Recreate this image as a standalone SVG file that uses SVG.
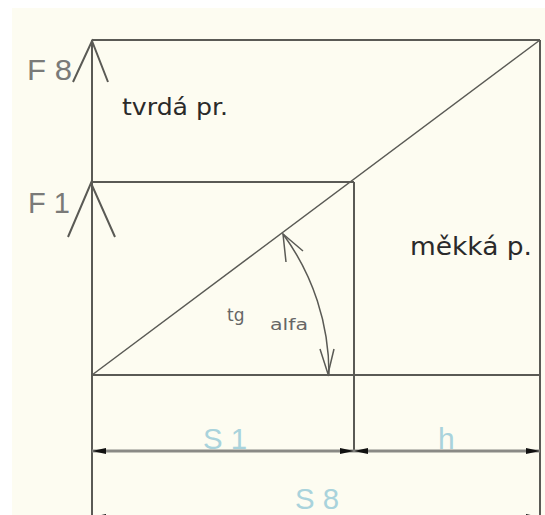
<svg xmlns="http://www.w3.org/2000/svg" width="545" height="515" viewBox="0 0 545 515">
<style>
.ln{stroke:#5a5a55;stroke-width:2;fill:none}
.thin{stroke:#5a5a55;stroke-width:1.5;fill:none}
.dim{stroke:#8a8a86;stroke-width:3;fill:none}
.ah{fill:#111}
.flab{font-family:"Liberation Sans",Arial,sans-serif;font-size:30px;fill:#7a7a78}
.slab{font-family:"Liberation Sans",Arial,sans-serif;font-size:30px;fill:#a9d3dc}
.lab{font-family:"DejaVu Sans",sans-serif;fill:#2a2a2a}
.sm{font-family:"DejaVu Sans",sans-serif;fill:#666}
</style>
<rect x="0" y="0" width="545" height="515" fill="#ffffff"/>
<rect x="12" y="8" width="533" height="507" fill="#fdfcf1"/>
<g id="frame">
<line class="ln" x1="92" y1="40" x2="92" y2="515"/>
<line class="ln" x1="92" y1="40" x2="540" y2="40"/>
<line class="ln" x1="540" y1="40" x2="540" y2="515"/>
<line class="ln" x1="92" y1="182" x2="354" y2="182"/>
<line class="ln" x1="354" y1="182" x2="354" y2="451"/>
<line class="ln" x1="92" y1="375" x2="540" y2="375"/>
<line class="thin" x1="92" y1="375" x2="540" y2="40"/>
</g>
<g id="force-arrows">
<polyline class="ln" points="73,82 92,41 108,82"/>
<polyline class="ln" points="68,237 91,183 115,237"/>
</g>
<g id="angle">
<path class="thin" d="M283,234 A237,237 0 0 1 329,375"/>
<polyline class="thin" points="286,262 283,234 303,251"/>
<polyline class="thin" points="320,349 328,374 334,349"/>
</g>
<g id="dimensions">
<line class="dim" x1="92" y1="451" x2="540" y2="451"/>
<polygon class="ah" points="92,451 106,448 106,454"/>
<polygon class="ah" points="354,451 340,448 340,454"/>
<polygon class="ah" points="354,451 368,448 368,454"/>
<polygon class="ah" points="540,451 526,448 526,454"/>
<polygon class="ah" points="92,517 106,514 106,520"/>
<polygon class="ah" points="540,517 526,514 526,520"/>
</g>
<g id="labels">
<text class="flab" x="27" y="80" textLength="45" lengthAdjust="spacingAndGlyphs">F 8</text>
<text class="flab" x="28" y="213" textLength="42" lengthAdjust="spacingAndGlyphs">F 1</text>
<text class="lab" x="122" y="115" font-size="23" textLength="106" lengthAdjust="spacingAndGlyphs">tvrdá pr.</text>
<text class="lab" x="410" y="255" font-size="25" textLength="122" lengthAdjust="spacingAndGlyphs">měkká p.</text>
<text class="sm" x="227" y="321" font-size="17">tg</text>
<text class="sm" x="270" y="330" font-size="16" textLength="38" lengthAdjust="spacingAndGlyphs">alfa</text>
<text class="slab" x="203" y="449" textLength="44" lengthAdjust="spacingAndGlyphs">S 1</text>
<text class="slab" x="438" y="449" font-size="26">h</text>
<text class="slab" x="295" y="509" font-size="25" textLength="44" lengthAdjust="spacingAndGlyphs">S 8</text>
</g>
</svg>
